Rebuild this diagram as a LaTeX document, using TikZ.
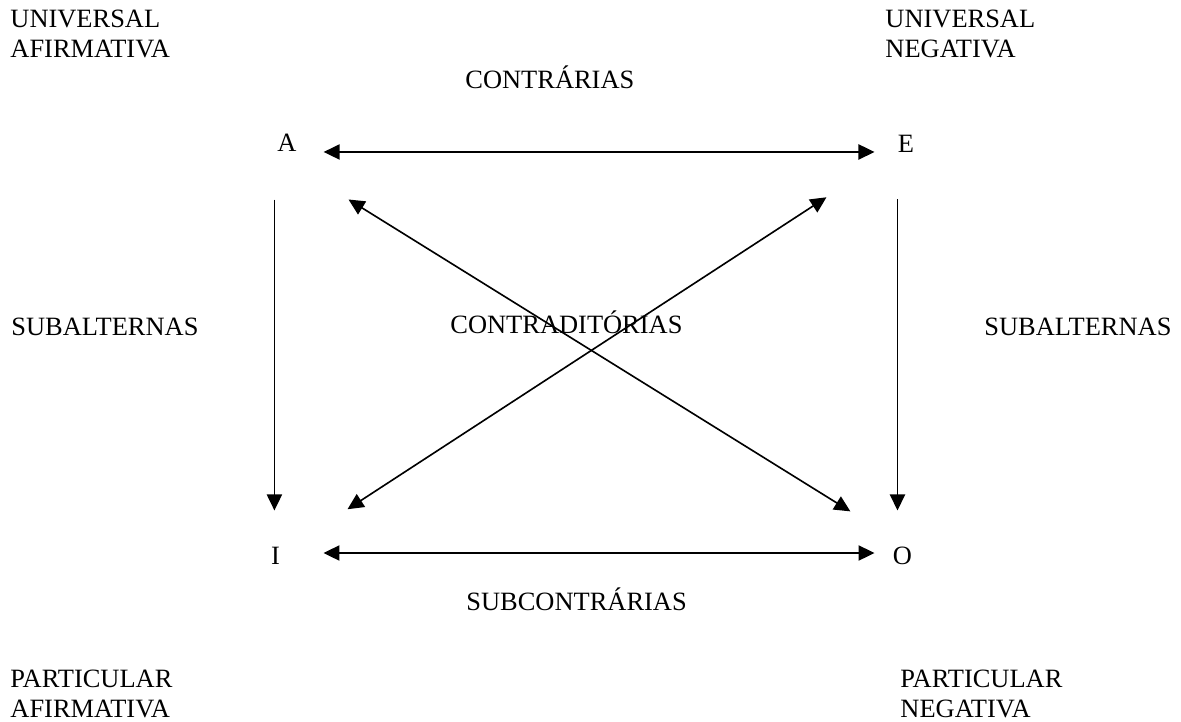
\documentclass[tikz,border=0pt]{standalone}
\usepackage{fontspec}
\setmainfont{Liberation Serif}
\usetikzlibrary{arrows.meta}

\begin{document}
\begin{tikzpicture}[
  x=0.4615pt, y=-0.4615pt,
  every node/.style={font=\fontsize{12.2}{13.8}\selectfont, inner sep=0pt},
  txt/.style={anchor=base west},
  corner/.style={anchor=north west, align=left},
  upper/.style={anchor=base, text height=8.3pt, text depth=7.4pt},
  lower/.style={anchor=base, text height=12pt, text depth=1.85pt},
  dblarrow/.style={{Triangle[length=7.4pt, width=7pt]}-{Triangle[length=7.4pt, width=7pt]}, line width=0.75pt},
  arrow/.style={-{Triangle[length=7.4pt, width=7pt]}, line width=0.75pt}
]
  \useasboundingbox (0,0) rectangle (1181,722);
  \node[corner] (ua) at (10,10) {UNIVERSAL\\AFIRMATIVA};
  \node[corner] (un) at (885,10) {UNIVERSAL\\NEGATIVA};
  \node[corner] (pa) at (10,670) {PARTICULAR\\AFIRMATIVA};
  \node[corner] (pn) at (900,670) {PARTICULAR\\NEGATIVA};
  \node[txt] (ctr) at (465,88) {CONTRÁRIAS};
  \node[txt] (ctd) at (450,333) {CONTRADITÓRIAS};
  \node[txt] (subl) at (11,335) {SUBALTERNAS};
  \node[txt] (subr) at (984,335) {SUBALTERNAS};
  \node[txt] (sbc) at (466,610) {SUBCONTRÁRIAS};
  \node[upper] (A) at (287,151) {A};
  \node[upper] (E) at (906,152) {E};
  \node[lower] (I) at (275.5,564) {I};
  \node[lower] (O) at (902.5,564) {O};
  \draw[dblarrow, shorten <=12.3pt, shorten >=10.6pt] ([yshift=-0.9pt]A.east) -- ([yshift=-0.9pt]A.east -| E.west);
  \draw[dblarrow, shorten <=19.9pt, shorten >=8.3pt] (I.east) -- (O.west);
  \draw[arrow, shorten <=14.8pt, shorten >=12.5pt] ([xshift=-1.2pt]A.south west) -- ([xshift=-1.2pt]A.south west |- I.north);
  \draw[arrow, shorten <=14.3pt, shorten >=12.5pt] (E.south west) -- (E.south west |- O.north);
  \draw[dblarrow, shorten <=28pt, shorten >=22.9pt] (A.south east) -- (O.north west);
  \draw[dblarrow, shorten <=37pt, shorten >=39.1pt] (I.east) -- (E.west);
\end{tikzpicture}
\end{document}
